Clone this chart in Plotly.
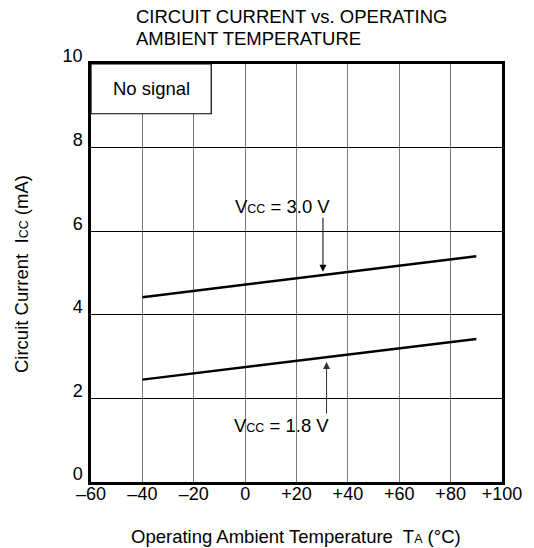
import plotly.graph_objects as go

# Data
temps = [-40, 90]
icc_30 = [4.42, 5.40]
icc_18 = [2.45, 3.42]
x_tickvals = [-60, -40, -20, 0, 20, 40, 60, 80, 100]
x_ticktext = ["–60", "–40", "–20", "0", "+20", "+40", "+60", "+80", "+100"]
y_tickvals = [0, 2, 4, 6, 8, 10]

FONT = "Arial, Liberation Sans, sans-serif"
FS = 18.5
TFS = 18
SMALL = 12.5

W, H = 534, 548
ml, mr, mt, mb = 91, 26, 64, 66
pw, ph = W - ml - mr, H - mt - mb


def px(xpage):
    return (xpage - ml) / pw


def py(ypage):
    return (H - mb - ypage) / ph


fig = go.Figure()
fig.add_trace(go.Scatter(x=temps, y=icc_30, mode="lines",
                         line=dict(color="black", width=2.4), showlegend=False))
fig.add_trace(go.Scatter(x=temps, y=icc_18, mode="lines",
                         line=dict(color="black", width=2.4), showlegend=False))

fig.update_xaxes(range=[-60, 100], tickvals=x_tickvals, ticktext=x_ticktext,
                 showgrid=True, gridcolor="#7a7a7a", gridwidth=1,
                 showline=True, linecolor="black", linewidth=2.5, mirror=True,
                 ticks="", zeroline=False, ticklabelstandoff=-6,
                 tickfont=dict(family=FONT, size=TFS, color="black"))
fig.update_yaxes(range=[0, 10], tickvals=y_tickvals,
                 showgrid=True, gridcolor="black", gridwidth=1,
                 showline=True, linecolor="black", linewidth=2.5, mirror=True,
                 ticks="", zeroline=False, ticklabelstandoff=2, ticklabelshift=-8,
                 tickfont=dict(family=FONT, size=TFS, color="black"))

# "No signal" box
fig.add_shape(type="rect", x0=-60, x1=-13.2, y0=8.81, y1=10, xref="x", yref="y",
              fillcolor="white", line=dict(color="black", width=1.2), layer="above")

ann = []
ann.append(dict(x=-36.6, y=9.41, xref="x", yref="y", text="No signal", showarrow=False,
                font=dict(family=FONT, size=FS, color="black")))
# Arrows
ann.append(dict(x=30.3, y=5.03, ax=30.3, ay=6.36, xref="x", yref="y", axref="x", ayref="y",
                text="", showarrow=True, arrowhead=2, arrowsize=1.4, arrowwidth=1,
                arrowcolor="black"))
ann.append(dict(x=31.7, y=2.87, ax=31.7, ay=1.6, xref="x", yref="y", axref="x", ayref="y",
                text="", showarrow=True, arrowhead=2, arrowsize=1.4, arrowwidth=1,
                arrowcolor="#333333"))
ann.append(dict(x=14.4, y=6.58, xref="x", yref="y", showarrow=False,
                text=f'V<span style="font-size:{SMALL}px">CC</span> = 3.0 V',
                font=dict(family=FONT, size=FS, color="black")))
ann.append(dict(x=14.2, y=1.34, xref="x", yref="y", showarrow=False,
                text=f'V<span style="font-size:{SMALL}px">CC</span> = 1.8 V',
                font=dict(family=FONT, size=FS, color="black")))
# Title (two lines)
ann.append(dict(text="CIRCUIT CURRENT vs. OPERATING", xref="paper", yref="paper",
                x=px(135), y=py(16), xanchor="left", yanchor="middle", showarrow=False,
                font=dict(family=FONT, size=FS, color="black")))
ann.append(dict(text="AMBIENT TEMPERATURE", xref="paper", yref="paper",
                x=px(135), y=py(38), xanchor="left", yanchor="middle", showarrow=False,
                font=dict(family=FONT, size=FS, color="black")))
# Axis titles
ann.append(dict(text=f'Operating Ambient Temperature  T<span style="font-size:{SMALL}px">A</span> (°C)',
                xref="paper", yref="paper", x=px(299), y=py(536),
                xanchor="center", yanchor="middle", showarrow=False,
                font=dict(family=FONT, size=FS, color="black")))
ann.append(dict(text=f'Circuit Current  I<span style="font-size:{SMALL}px">CC</span> (mA)',
                xref="paper", yref="paper", x=px(20), y=py(274), textangle=-90,
                xanchor="center", yanchor="middle", showarrow=False,
                font=dict(family=FONT, size=FS, color="black")))

fig.update_layout(width=W, height=H, margin=dict(l=ml, r=mr, t=mt, b=mb),
                  plot_bgcolor="white", paper_bgcolor="white",
                  annotations=ann, showlegend=False)

fig.write_html("out.html", config={"displayModeBar": False},
               post_script="document.body.style.margin='0';")
